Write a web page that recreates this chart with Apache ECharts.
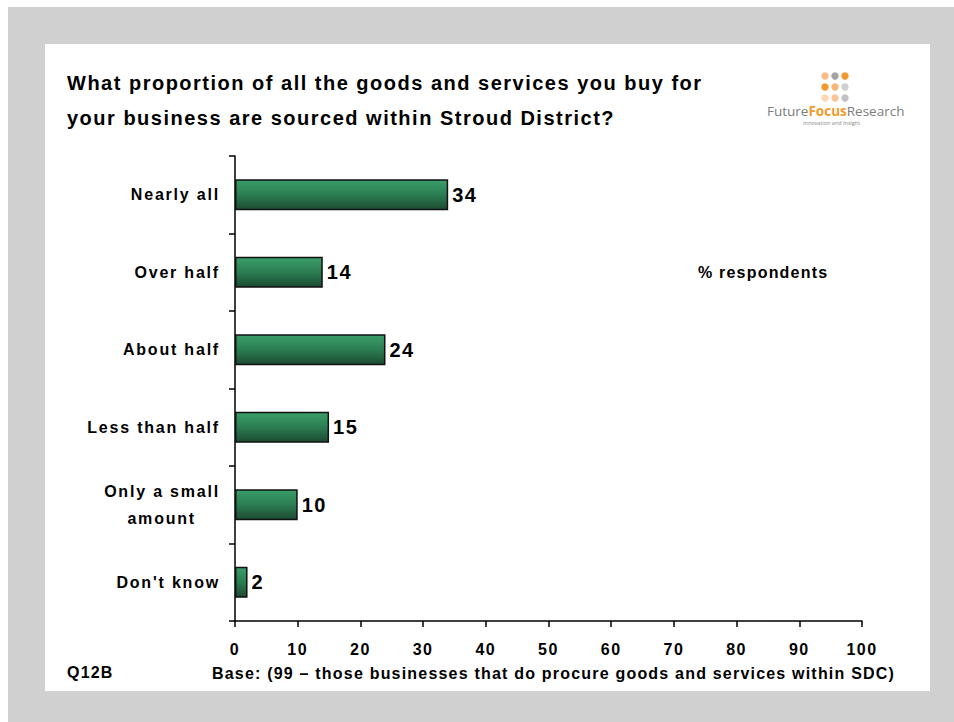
<!DOCTYPE html>
<html>
<head>
<meta charset="utf-8">
<script src="https://cdn.jsdelivr.net/npm/echarts@6/dist/echarts.min.js"></script>
<style>
  html, body { margin: 0; padding: 0; background: #ffffff; }
  #chart { width: 954px; height: 722px; }
  /* PowerPoint-style loose tracking for the bold Arial text */
  #chart svg text { letter-spacing: 1.5px; }
  #chart svg text[style*="Arimo"] { letter-spacing: 1.8px; }
  #chart svg text[style*="Helvetica"] { letter-spacing: 1.2px; }
  #chart svg text[style*="Open Sans"] { letter-spacing: 0; }
</style>
</head>
<body>
<div id="chart"></div>
<script>
// Answer categories, top to bottom
const categories = [
  'Nearly all',
  'Over half',
  'About half',
  'Less than half',
  'Only a small\namount',
  "Don't know"
];
// % of respondents giving each answer
const percentValues = [34, 14, 24, 15, 10, 2];
// Value axis range and step
const axisMin = 0;
const axisMax = 100;
const axisStep = 10;

const titleLines = [
  'What proportion of all the goods and services you buy for',
  'your business are sourced within Stroud District?'
];
const unitNote = '% respondents';
const questionCode = 'Q12B';
const baseNote = 'Base: (99 \u2013 those businesses that do procure goods and services within SDC)';

// Same face everywhere; the fallback names only tag groups with different tracking
const FONT = "'Liberation Sans', Arial, sans-serif";
const FONT_CAT = "'Liberation Sans', Arimo, sans-serif";
const FONT_NOTE = "'Liberation Sans', Helvetica, sans-serif";
const LOGO_FONT = "'Open Sans', sans-serif";

const chart = echarts.init(document.getElementById('chart'), null, { renderer: 'svg' });

// Logo dot grid colours (row by row)
const logoDots = [
  ['#fbbd84', '#a3a3a3', '#f5972f'],
  ['#f5972f', '#f9b677', '#cfcfcf'],
  ['#fcd8b6', '#f9c398', '#c2c2c2']
];
const dotEls = [];
logoDots.forEach((row, r) => row.forEach((c, k) => {
  dotEls.push({
    type: 'circle', silent: true, z: 5,
    shape: { cx: 825 + k * 10, cy: 76 + r * 11, r: 3.7 },
    style: { fill: c }
  });
}));

// Category label: single lines sit flush right; the wrapped label is centred line by line
function categoryLabel(v) {
  const lines = v.split('\n');
  if (lines.length === 1) return '{r|' + v + '}';
  return '{r|' + lines[0] + '}\n{m|' + lines[1] + '}';
}

const option = {
  backgroundColor: '#ffffff',
  animation: false,
  graphic: [
    { type: 'rect', silent: true, z: -10, shape: { x: 8, y: 7, width: 946, height: 715 }, style: { fill: '#d0d0d0' } },
    { type: 'rect', silent: true, z: -9, shape: { x: 45, y: 44, width: 885, height: 647 }, style: { fill: '#ffffff' } },
    { type: 'text', silent: true, z: 5, left: 67, top: 73,
      style: { text: titleLines[0], font: 'bold 20px ' + FONT, fill: '#000' } },
    { type: 'text', silent: true, z: 5, left: 67, top: 108,
      style: { text: titleLines[1], font: 'bold 20px ' + FONT, fill: '#000' } },
    { type: 'text', silent: true, z: 5, left: 698, top: 264,
      style: { text: unitNote, font: 'bold 16px ' + FONT_NOTE, fill: '#000' } },
    { type: 'text', silent: true, z: 5, left: 67, top: 664,
      style: { text: questionCode, font: 'bold 16px ' + FONT_NOTE, fill: '#000' } },
    { type: 'text', silent: true, z: 5, left: 212, top: 665,
      style: { text: baseNote, font: 'bold 16px ' + FONT_NOTE, fill: '#000' } },
    ...dotEls,
    { type: 'text', silent: true, z: 5, left: 767, top: 104,
      style: {
        text: '{a|Future}{b|Focus}{a|Research}',
        rich: {
          a: { fontFamily: LOGO_FONT, fontSize: 13.5, fill: '#7d7d7d', fontWeight: 'normal' },
          b: { fontFamily: LOGO_FONT, fontSize: 13.5, fill: '#f39a2b', fontWeight: 'bold' }
        }
      } },
    { type: 'text', silent: true, z: 5, left: 803, top: 120,
      style: { text: 'Innovation and Insight', fontFamily: LOGO_FONT, fontSize: 5.5, fill: '#8a8a8a' } }
  ],
  grid: { left: 235, right: 92, top: 156, bottom: 101, containLabel: false },
  xAxis: {
    type: 'value',
    min: axisMin,
    max: axisMax,
    interval: axisStep,
    splitLine: { show: false },
    axisLine: { show: true, lineStyle: { color: '#000', width: 1.5 } },
    axisTick: { show: true, length: 6, lineStyle: { color: '#000', width: 1.5 } },
    axisLabel: { margin: 20, color: '#000', fontFamily: FONT, fontWeight: 'bold', fontSize: 16 }
  },
  yAxis: {
    type: 'category',
    data: categories,
    inverse: true,
    axisLine: { show: true, lineStyle: { color: '#000', width: 1.5 } },
    axisTick: { show: true, length: 6, lineStyle: { color: '#000', width: 1.5 } },
    axisLabel: {
      margin: 15,
      formatter: categoryLabel,
      rich: {
        r: { align: 'right', color: '#000', fontFamily: FONT_CAT, fontWeight: 'bold', fontSize: 16, lineHeight: 27 },
        m: { align: 'right', padding: [0, 24, 0, 0], color: '#000', fontFamily: FONT_CAT, fontWeight: 'bold', fontSize: 16, lineHeight: 27 }
      }
    }
  },
  series: [{
    type: 'bar',
    data: percentValues,
    barWidth: '40%',
    silent: true,
    itemStyle: {
      color: new echarts.graphic.LinearGradient(0, 0, 0, 1, [
        { offset: 0, color: '#3a9e69' },
        { offset: 0.5, color: '#2b7d52' },
        { offset: 1, color: '#1c4a31' }
      ]),
      borderColor: '#111',
      borderWidth: 1.5
    },
    label: {
      show: true,
      position: 'right',
      distance: 4,
      color: '#000',
      fontFamily: FONT,
      fontWeight: 'bold',
      fontSize: 20
    }
  }]
};

chart.setOption(option);
</script>
</body>
</html>
